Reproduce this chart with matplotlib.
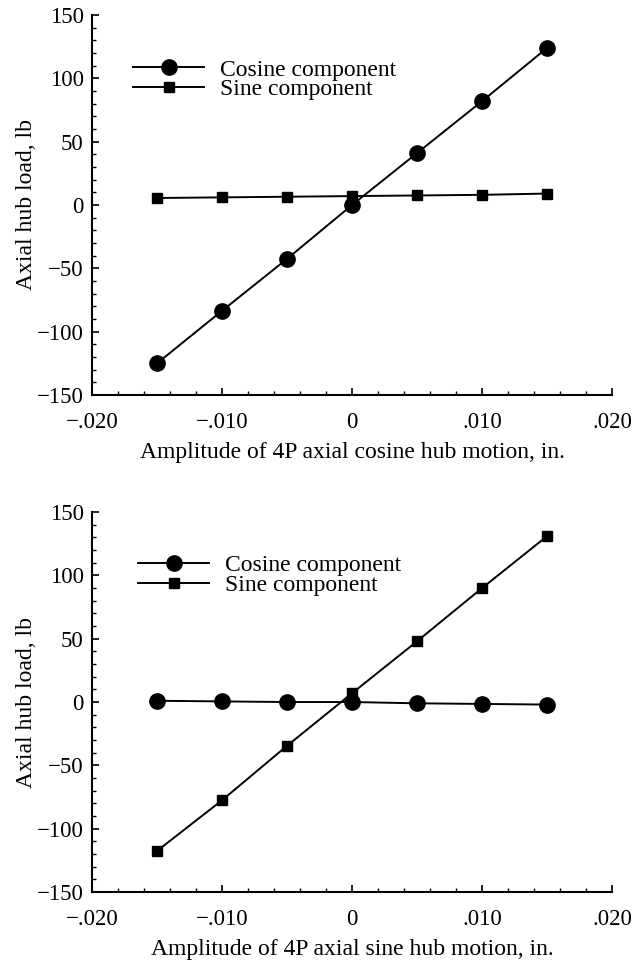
import matplotlib
matplotlib.use("Agg")
import matplotlib.pyplot as plt
from matplotlib.ticker import MultipleLocator, FuncFormatter

plt.rcParams['font.family'] = ['Liberation Serif', 'DejaVu Serif']
plt.rcParams['font.size'] = 17

amplitude = [-0.015, -0.010, -0.005, 0.0, 0.005, 0.010, 0.015]

# top panel: cosine hub motion
cos_top = [-125, -83.5, -42.5, 0, 41, 82, 124]
sin_top = [5.5, 6, 6.5, 7, 7.5, 8, 9]

# bottom panel: sine hub motion
cos_bot = [1, 0.5, 0, 0, -1, -1.5, -2]
sin_bot = [-117.5, -77.5, -34.5, 7, 48, 90, 131]

xlabels = ["Amplitude of 4P axial cosine hub motion, in.",
           "Amplitude of 4P axial sine hub motion, in."]
ylabel = "Axial hub load, lb"


def xfmt(v, pos):
    if abs(v) < 1e-9:
        return "0"
    s = "%.3f" % abs(v)
    s = s[1:]
    return ("\u2212" if v < 0 else "") + s


def yfmt(v, pos):
    return ("\u2212" if v < 0 else "") + "%d" % abs(v)


fig = plt.figure(figsize=(6.35, 9.65), dpi=100)
ax1 = fig.add_axes([0.145, 0.5907, 0.819, 0.3938])
ax2 = fig.add_axes([0.145, 0.0756, 0.819, 0.3938])

panels = [(ax1, cos_top, sin_top, xlabels[0], (0.061, 0.909)),
          (ax2, cos_bot, sin_bot, xlabels[1], (0.071, 0.912))]

for ax, c, s, xl, lpos in panels:
    ax.plot(amplitude, c, color='black', lw=1.4, marker='o', ms=11,
            label='Cosine component')
    ax.plot(amplitude, s, color='black', lw=1.4, marker='s', ms=7.5,
            label='Sine component')
    ax.set_xlim(-0.020, 0.020)
    ax.set_ylim(-150, 150)
    ax.xaxis.set_major_locator(MultipleLocator(0.010))
    ax.xaxis.set_minor_locator(MultipleLocator(0.002))
    ax.yaxis.set_major_locator(MultipleLocator(50))
    ax.yaxis.set_minor_locator(MultipleLocator(10))
    ax.xaxis.set_major_formatter(FuncFormatter(xfmt))
    ax.yaxis.set_major_formatter(FuncFormatter(yfmt))
    ax.spines['top'].set_visible(False)
    ax.spines['right'].set_visible(False)
    ax.spines['left'].set_linewidth(1.5)
    ax.spines['bottom'].set_linewidth(1.5)
    ax.tick_params(which='major', direction='in', length=5, width=1.2,
                   labelsize=16.5)
    ax.tick_params(axis='x', which='major', pad=12)
    ax.tick_params(axis='y', which='major', pad=6)
    ax.tick_params(which='minor', direction='in', length=3, width=1.0)
    ax.set_xlabel(xl, labelpad=7)
    ax.set_ylabel(ylabel, labelpad=0)
    ax.legend(loc='upper left', bbox_to_anchor=lpos, frameon=False,
              handlelength=3.0, handletextpad=0.68, labelspacing=-0.07,
              borderaxespad=0.0, fontsize=17)

fig.savefig("out.png", dpi=100)
